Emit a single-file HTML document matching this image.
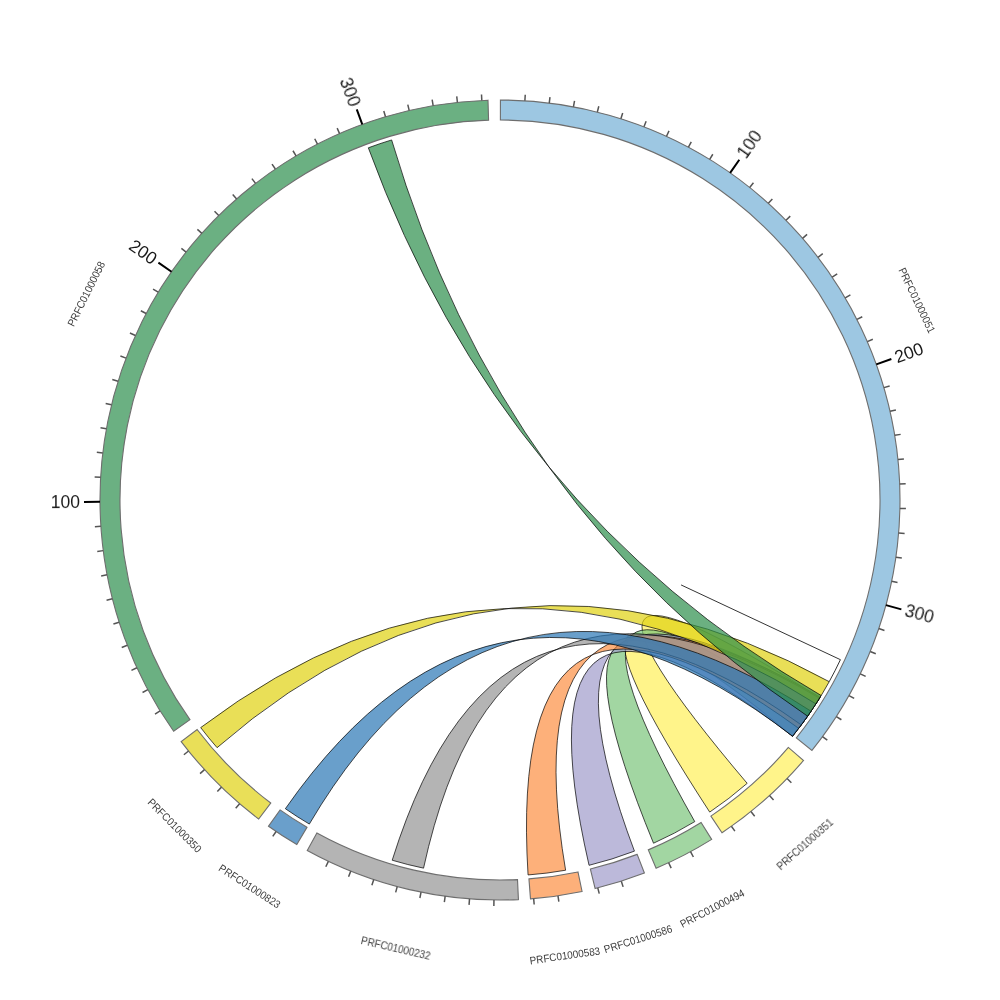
<!DOCTYPE html><html><head><meta charset="utf-8"><style>html,body{margin:0;padding:0;background:#fff;}svg{display:block;}text{font-family:"Liberation Sans",sans-serif;}</style></head><body>
<svg width="1000" height="1000" viewBox="0 0 1000 1000">
<rect width="1000" height="1000" fill="#fff"/>
<g stroke="#000" stroke-width="0.7" stroke-linejoin="miter">
<path d="M747.17,783.34 A376,376 0 0 1 709.71,812.08 Q505.20,497.90 792.54,736.22 A376,376 0 0 0 819.84,697.69 Q505.20,497.90 747.17,783.34 Z" fill="#ffef58" fill-opacity="0.7"/>
<path d="M694.78,821.62 A376,376 0 0 1 653.53,843.23 Q512.90,500.90 792.54,736.22 A376,376 0 0 0 807.62,716.20 Q512.90,500.90 694.78,821.62 Z" fill="#7ac47a" fill-opacity="0.7"/>
<path d="M634.44,851.14 A376,376 0 0 1 589.05,865.30 Q509.00,516.60 792.54,736.22 A376,376 0 0 0 820.01,697.41 Q509.00,516.60 634.44,851.14 Z" fill="#9f9bca" fill-opacity="0.7"/>
<path d="M565.61,870.23 A376,376 0 0 1 528.06,874.95 Q505.70,515.10 798.70,728.37 A376,376 0 0 0 820.15,697.19 Q505.70,515.10 565.61,870.23 Z" fill="#fc8e41" fill-opacity="0.7"/>
<path d="M423.56,868.15 A376,376 0 0 1 392.20,860.22 Q501.60,510.90 801.31,724.92 A376,376 0 0 0 819.53,698.19 Q501.60,510.90 423.56,868.15 Z" fill="#949494" fill-opacity="0.7"/>
<path d="M309.34,824.07 A376,376 0 0 1 285.36,808.71 Q495.80,507.40 792.54,736.22 A376,376 0 0 0 811.06,711.23 Q495.80,507.40 309.34,824.07 Z" fill="#2a76b5" fill-opacity="0.7"/>
<path d="M217.09,747.67 A376,376 0 0 1 200.70,727.59 Q500.00,501.50 815.95,703.85 A376,376 0 0 0 829.21,681.66 Q500.00,501.50 217.09,747.67 Z" fill="#e0d110" fill-opacity="0.7"/>
<path d="M368.32,147.81 A376,376 0 0 1 391.64,139.95 Q500.90,509.60 807.62,716.20 A376,376 0 0 0 821.17,695.51 Q500.90,509.60 368.32,147.81 Z" fill="#2c8e4c" fill-opacity="0.7"/>
</g>
<path d="M681.07,584.93 L840.41,659.68 A376,376 0 0 1 829.21,681.66" fill="none" stroke="#000" stroke-width="0.8"/>
<path d="M500.42,100.00 A400,400 0 0 1 811.95,750.37 L796.36,737.85 A380,380 0 0 0 500.40,120.00 Z" fill="#9dc7e2" stroke="#6e6e6e" stroke-width="1.1"/>
<path d="M803.57,760.47 A400,400 0 0 1 722.00,832.74 L710.90,816.11 A380,380 0 0 0 788.39,747.45 Z" fill="#fff48a" stroke="#6e6e6e" stroke-width="1.1"/>
<path d="M711.67,839.40 A400,400 0 0 1 656.10,868.28 L648.29,849.87 A380,380 0 0 0 701.09,822.43 Z" fill="#a2d6a2" stroke="#6e6e6e" stroke-width="1.1"/>
<path d="M644.39,873.03 A400,400 0 0 1 595.14,888.52 L590.39,869.09 A380,380 0 0 0 637.17,854.38 Z" fill="#bcb9da" stroke="#6e6e6e" stroke-width="1.1"/>
<path d="M582.07,891.49 A400,400 0 0 1 530.48,898.84 L528.95,878.90 A380,380 0 0 0 577.97,871.92 Z" fill="#fdb07a" stroke="#6e6e6e" stroke-width="1.1"/>
<path d="M518.42,899.58 A400,400 0 0 1 307.24,850.49 L316.88,832.96 A380,380 0 0 0 517.50,879.60 Z" fill="#b4b4b4" stroke="#6e6e6e" stroke-width="1.1"/>
<path d="M296.80,844.55 A400,400 0 0 1 268.52,826.21 L280.09,809.90 A380,380 0 0 0 306.96,827.32 Z" fill="#6a9fcb" stroke="#6e6e6e" stroke-width="1.1"/>
<path d="M258.66,818.99 A400,400 0 0 1 181.18,741.56 L197.12,729.48 A380,380 0 0 0 270.73,803.04 Z" fill="#e9df58" stroke="#6e6e6e" stroke-width="1.1"/>
<path d="M173.63,731.26 A400,400 0 0 1 487.99,100.18 L488.59,120.17 A380,380 0 0 0 189.94,719.69 Z" fill="#6bb082" stroke="#6e6e6e" stroke-width="1.1"/>
<path d="M524.88,100.77L525.25,94.79 M549.25,103.04L549.99,97.09 M573.43,106.80L574.53,100.90 M597.34,112.02L598.80,106.20 M620.88,118.70L622.69,112.98 M643.97,126.81L646.13,121.21 M666.53,136.31L669.02,130.86 M688.45,147.18L691.28,141.88 M709.68,159.36L712.82,154.25 M749.69,187.51L753.44,182.82 M768.34,203.36L772.36,198.91 M785.97,220.32L790.26,216.13 M802.54,238.34L807.08,234.41 M817.98,257.33L822.75,253.69 M832.22,277.23L837.21,273.88 M845.22,297.96L850.40,294.93 M856.93,319.45L862.29,316.74 M867.31,341.62L872.82,339.24 M883.89,387.64L889.65,385.95 M890.05,411.33L895.90,410.00 M894.74,435.34L900.66,434.37 M897.96,459.61L903.92,459.00 M899.68,484.02L905.68,483.78 M899.91,508.49L905.91,508.62 M898.64,532.93L904.62,533.42 M895.88,557.25L901.82,558.10 M891.64,581.35L897.52,582.57 M878.78,628.55L884.46,630.48 M870.21,651.47L875.76,653.74 M860.26,673.83L865.66,676.44 M848.95,695.53L854.18,698.47 M836.34,716.51L841.39,719.75 M822.47,736.67L827.31,740.22 M787.08,778.55L791.38,782.72 M769.50,795.58L773.55,800.01 M750.92,811.51L754.69,816.18 M731.41,826.27L734.88,831.16 M690.52,851.71L693.38,856.99 M668.65,862.71L671.18,868.15 M621.31,881.16L623.13,886.88 M597.77,887.87L599.24,893.69 M557.98,895.78L558.85,901.71 M533.67,898.58L534.17,904.56 M493.95,899.95L493.86,905.95 M469.51,898.84L469.05,904.82 M445.17,896.22L444.35,902.17 M421.05,892.13L419.86,898.01 M397.21,886.57L395.67,892.37 M373.77,879.56L371.87,885.25 M350.79,871.13L348.55,876.70 M328.38,861.31L325.80,866.73 M276.11,831.47L272.76,836.45 M239.61,803.64L235.70,808.19 M221.52,787.14L217.35,791.45 M204.49,769.58L200.05,773.62 M188.55,751.00L183.88,754.77 M160.09,710.87L155.00,714.03 M147.84,689.68L142.55,692.53 M136.89,667.79L131.45,670.31 M127.31,645.27L121.72,647.45 M119.13,622.21L113.41,624.04 M112.37,598.69L106.55,600.17 M107.06,574.80L101.16,575.92 M103.22,550.63L97.27,551.39 M100.86,526.27L94.88,526.67 M100.64,477.35L94.65,477.01 M102.77,452.97L96.82,452.27 M106.39,428.77L100.49,427.70 M111.49,404.83L105.66,403.40 M118.03,381.25L112.30,379.47 M126.01,358.11L120.40,355.99 M135.39,335.51L129.92,333.04 M146.13,313.52L140.82,310.72 M158.19,292.23L153.07,289.11 M186.12,252.06L181.41,248.34 M201.87,233.32L197.39,229.32 M218.73,215.59L214.51,211.33 M236.65,198.92L232.70,194.41 M255.55,183.38L251.89,178.63 M275.37,169.03L272.01,164.06 M296.04,155.91L292.98,150.75 M317.46,144.08L314.72,138.74 M339.57,133.58L337.16,128.09 M385.50,116.74L383.78,110.99 M409.15,110.45L407.79,104.61 M433.14,105.63L432.14,99.71 M457.38,102.28L456.74,96.31 M481.79,100.41L481.51,94.42" stroke="#555" stroke-width="1.5" fill="none"/>
<path d="M730.12,172.82L739.32,159.73 M876.30,364.37L891.36,358.95 M885.93,605.15L901.37,609.35 M100.00,501.82L84.00,501.89 M171.54,271.71L158.40,262.58 M362.27,124.46L356.76,109.44" stroke="#000" stroke-width="2" fill="none"/>
<g opacity="0.999">
<text x="741.62" y="156.46" font-size="17.5" fill="#1a1a1a" text-anchor="start" dominant-baseline="central" transform="rotate(-54.88 741.62 156.46)">100</text>
<text x="895.12" y="357.59" font-size="17.5" fill="#1a1a1a" text-anchor="start" dominant-baseline="central" transform="rotate(-19.82 895.12 357.59)">200</text>
<text x="905.23" y="610.40" font-size="17.5" fill="#1a1a1a" text-anchor="start" dominant-baseline="central" transform="rotate(15.24 905.23 610.40)">300</text>
<text x="80.00" y="501.91" font-size="17.5" fill="#1a1a1a" text-anchor="end" dominant-baseline="central" transform="rotate(-0.26 80.00 501.91)">100</text>
<text x="155.12" y="260.30" font-size="17.5" fill="#1a1a1a" text-anchor="end" dominant-baseline="central" transform="rotate(34.80 155.12 260.30)">200</text>
<text x="355.39" y="105.68" font-size="17.5" fill="#1a1a1a" text-anchor="end" dominant-baseline="central" transform="rotate(69.86 355.39 105.68)">300</text>
<text x="917.11" y="300.20" font-size="10.8" fill="#3c3c3c" text-anchor="middle" dominant-baseline="central" textLength="71" lengthAdjust="spacingAndGlyphs" transform="rotate(64.41 917.11 300.20)">PRFC01000051</text>
<text x="805.05" y="844.31" font-size="10.8" fill="#3c3c3c" text-anchor="middle" dominant-baseline="central" textLength="71" lengthAdjust="spacingAndGlyphs" transform="rotate(-41.54 805.05 844.31)">PRFC01000351</text>
<text x="712.12" y="908.17" font-size="10.8" fill="#3c3c3c" text-anchor="middle" dominant-baseline="central" textLength="71" lengthAdjust="spacingAndGlyphs" transform="rotate(-27.46 712.12 908.17)">PRFC01000494</text>
<text x="638.02" y="938.81" font-size="10.8" fill="#3c3c3c" text-anchor="middle" dominant-baseline="central" textLength="71" lengthAdjust="spacingAndGlyphs" transform="rotate(-17.46 638.02 938.81)">PRFC01000586</text>
<text x="564.85" y="955.41" font-size="10.8" fill="#3c3c3c" text-anchor="middle" dominant-baseline="central" textLength="71" lengthAdjust="spacingAndGlyphs" transform="rotate(-8.11 564.85 955.41)">PRFC01000583</text>
<text x="395.86" y="948.06" font-size="10.8" fill="#3c3c3c" text-anchor="middle" dominant-baseline="central" textLength="71" lengthAdjust="spacingAndGlyphs" transform="rotate(13.09 395.86 948.06)">PRFC01000232</text>
<text x="249.84" y="886.03" font-size="10.8" fill="#3c3c3c" text-anchor="middle" dominant-baseline="central" textLength="71" lengthAdjust="spacingAndGlyphs" transform="rotate(32.94 249.84 886.03)">PRFC01000823</text>
<text x="174.84" y="825.38" font-size="10.8" fill="#3c3c3c" text-anchor="middle" dominant-baseline="central" textLength="71" lengthAdjust="spacingAndGlyphs" transform="rotate(44.98 174.84 825.38)">PRFC01000350</text>
<text x="86.02" y="293.78" font-size="10.8" fill="#3c3c3c" text-anchor="middle" dominant-baseline="central" textLength="71" lengthAdjust="spacingAndGlyphs" transform="rotate(-63.52 86.02 293.78)">PRFC01000058</text>
</g></svg></body></html>
